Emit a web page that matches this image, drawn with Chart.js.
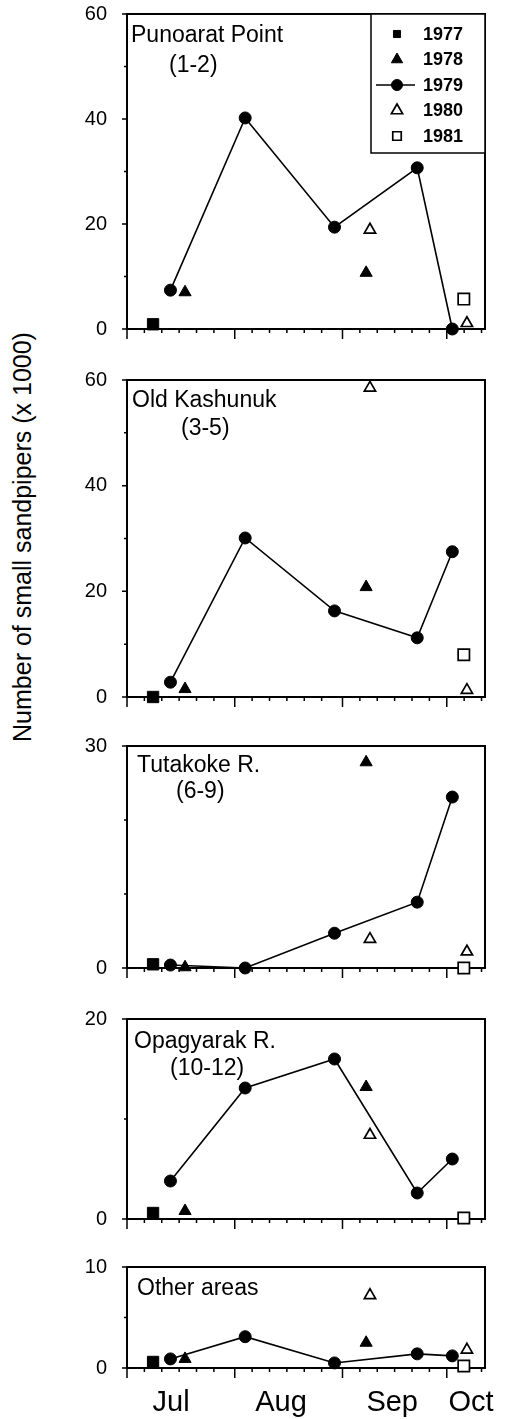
<!DOCTYPE html>
<html>
<head>
<meta charset="utf-8">
<script src="https://cdn.jsdelivr.net/npm/chart.js@4.4.0/dist/chart.umd.min.js"></script>
<style>
    html, body { margin: 0; padding: 0; background: #fff; }
    #page {
        position: relative; width: 507px; height: 1419px; overflow: hidden;
        font-family: "Liberation Sans", Arial, Helvetica, sans-serif; color: #000;
    }
    .panel { position: absolute; left: 0; }
    .panel canvas { display: block; }
    .site { position: absolute; font-size: 23px; line-height: 28px; white-space: nowrap; }
    #ytitle {
        position: absolute; left: -208px; top: 522px; width: 460px; height: 30px;
        line-height: 30px; font-size: 25px; text-align: center; white-space: nowrap;
        transform: rotate(-90deg);
    }
</style>
</head>
<body>
<div id="page">
    <div id="ytitle">Number of small sandpipers (x 1000)</div>
</div>
<script>
// ============================================================
// Small sandpiper counts by area, Jul–Oct surveys 1977–1981
// ============================================================

const AREAS = ["Punoarat Point", "Old Kashunuk", "Tutakoke R.", "Opagyarak R.", "Other areas"];
const AREA_SITES = ["(1-2)", "(3-5)", "(6-9)", "(10-12)", ""];
const YEARS = ["1977", "1978", "1979", "1980", "1981"];

// survey dates as days after 1 July
const DAYS_1977 = [7.5];
const DAYS_1978 = [16.7, 68.8];
const DAYS_1979 = [12.5, 34, 59.7, 83.5, 93.6];
const DAYS_1980 = [69.9, 97.8];
const DAYS_1981 = [96.9];

// counts (x 1000), one row per area in AREAS order
const COUNTS_1977 = [[0.9], [0], [0.5], [0.6], [0.6]];
const COUNTS_1978 = [[7.0, 10.7], [1.5, 20.8], [0.1, 27.8], [0.8, 13.2], [0.9, 2.5]];
const COUNTS_1979 = [
    [7.4, 40.2, 19.4, 30.7, 0],
    [2.8, 30.1, 16.3, 11.2, 27.5],
    [0.4, 0, 4.7, 8.9, 23.1],
    [3.8, 13.1, 16.0, 2.6, 6.0],
    [0.9, 3.1, 0.5, 1.4, 1.2]
];
const COUNTS_1980 = [[18.9, 1.1], [58.5, 1.3], [3.9, 2.2], [8.4, null], [7.2, 1.8]];
const COUNTS_1981 = [[5.7], [8.0], [0], [0.1], [0.2]];

// axes
const Y_MAX = [60, 60, 30, 20, 10];
const Y_LABEL_STEP = [20, 20, 30, 20, 10];
const Y_MINOR_STEP = [10, 10, 10, 10, 5];
const X_TICK_DAYS = [0, 5, 10, 15, 20, 25, 31, 36, 41, 46, 51, 56, 62, 67, 72, 77, 82, 87, 92, 97, 102];
const MONTH_START_DAYS = [0, 31, 62, 92];
const MONTH_LABELS = ["Jul", "Aug", "Sep", "Oct"];
const MONTH_LABEL_DAYS = [12.7, 44.3, 76.3, 99];

// ---- layout (pixels) ----
const FONT = "'Liberation Sans', Arial, Helvetica, sans-serif";
const PAGE_H = 1419;
const PAD_TOP = 14;
const AXIS_LEFT = 127;
const PANEL_TOP = [14, 380, 746, 1019, 1267];        // y of axis max
const PANEL_BOTTOM = [329, 697, 968, 1219, 1368];    // y of zero
const SITE_LABELS = [
    [{ x: 131, y: 20 }, { x: 169, y: 50 }],
    [{ x: 132, y: 385 }, { x: 181, y: 413 }],
    [{ x: 137, y: 750 }, { x: 176, y: 776 }],
    [{ x: 134, y: 1026 }, { x: 170, y: 1053 }],
    [{ x: 137, y: 1273 }]
];

const YEAR_STYLE = [
    { pointStyle: "rect", radius: 8, fill: "#000", border: 1, legendRadius: 5 },
    { pointStyle: "triangle", radius: 7, fill: "#000", border: 1, legendRadius: 6.5 },
    { pointStyle: "circle", radius: 6, fill: "#000", border: 1, legendRadius: 5.5, line: true },
    { pointStyle: "triangle", radius: 6.5, fill: "#fff", border: 1.7, legendRadius: 6.5 },
    { pointStyle: "rect", radius: 8, fill: "#fff", border: 1.7, legendRadius: 6 }
];

function points(days, values) {
    return days
        .map((d, i) => ({ x: d, y: values[i] }))
        .filter(p => p.y !== null);
}

function buildDatasets(i) {
    const series = [
        points(DAYS_1977, COUNTS_1977[i]),
        points(DAYS_1978, COUNTS_1978[i]),
        points(DAYS_1979, COUNTS_1979[i]),
        points(DAYS_1980, COUNTS_1980[i]),
        points(DAYS_1981, COUNTS_1981[i])
    ];
    return series.map((data, k) => {
        const st = YEAR_STYLE[k];
        return {
            label: YEARS[k],
            data,
            showLine: !!st.line,
            borderColor: "#000",
            borderWidth: 1.6,
            pointStyle: st.pointStyle,
            pointRadius: st.radius,
            pointBackgroundColor: st.fill,
            pointBorderColor: "#000",
            pointBorderWidth: st.border,
            legendRadius: st.legendRadius,
            clip: false
        };
    });
}

// box round the plot area plus the tick marks
const frameTicks = {
    id: "frameTicks",
    beforeDatasetsDraw(chart) {
        const { ctx, chartArea: a, scales } = chart;
        ctx.save();
        ctx.strokeStyle = "#000";
        ctx.lineWidth = 2;
        ctx.strokeRect(a.left, a.top, a.right - a.left, a.bottom - a.top);

        ctx.lineWidth = 1.5;
        ctx.beginPath();
        X_TICK_DAYS.forEach(d => {
            const px = scales.x.getPixelForValue(d);
            const len = MONTH_START_DAYS.includes(d) ? 10 : 4;
            ctx.moveTo(px, a.bottom);
            ctx.lineTo(px, a.bottom + len);
        });
        scales.y.ticks.forEach(t => {
            const py = scales.y.getPixelForValue(t.value);
            const len = t.label !== "" ? 5 : 3;
            ctx.moveTo(a.left - len, py);
            ctx.lineTo(a.left, py);
        });
        ctx.stroke();
        ctx.restore();
    }
};

// year key in the top right corner of the first panel
const legendBox = {
    id: "legendBox",
    afterDatasetsDraw(chart) {
        const { ctx, chartArea: a } = chart;
        const w = 114, h = 139;
        const left = a.right - w, top = a.top;
        ctx.save();
        ctx.fillStyle = "#fff";
        ctx.fillRect(left, top, w, h);
        ctx.strokeStyle = "#000";
        ctx.lineWidth = 1.5;
        ctx.strokeRect(left, top, w, h);

        chart.data.datasets.forEach((ds, k) => {
            const cy = top + 20 + k * 25.5;
            const mx = left + 26;
            if (ds.showLine) {
                ctx.lineWidth = 1.6;
                ctx.beginPath();
                ctx.moveTo(left + 5, cy);
                ctx.lineTo(left + 44, cy);
                ctx.stroke();
            }
            ctx.fillStyle = ds.pointBackgroundColor;
            ctx.strokeStyle = "#000";
            ctx.lineWidth = ds.pointBorderWidth;
            Chart.helpers.drawPoint(ctx, {
                pointStyle: ds.pointStyle,
                radius: ds.legendRadius,
                borderWidth: ds.pointBorderWidth,
                rotation: 0
            }, mx, cy);

            ctx.fillStyle = "#000";
            ctx.font = "bold 18px " + FONT;
            ctx.textAlign = "left";
            ctx.textBaseline = "middle";
            ctx.fillText(ds.label, left + 52, cy + 1);
        });
        ctx.restore();
    }
};

function makePanel(i) {
    const page = document.getElementById("page");
    const isLast = i === AREAS.length - 1;
    const axisH = isLast ? PAGE_H - PANEL_BOTTOM[i] : 16;
    const h = PANEL_BOTTOM[i] - PANEL_TOP[i] + PAD_TOP + axisH;

    const wrap = document.createElement("div");
    wrap.className = "panel";
    wrap.style.top = (PANEL_TOP[i] - PAD_TOP) + "px";
    const canvas = document.createElement("canvas");
    canvas.width = 507;
    canvas.height = h;
    wrap.appendChild(canvas);
    page.appendChild(wrap);

    [AREAS[i], AREA_SITES[i]].forEach((txt, k) => {
        if (!txt) return;
        const div = document.createElement("div");
        div.className = "site";
        div.textContent = txt;
        div.style.left = SITE_LABELS[i][k].x + "px";
        div.style.top = SITE_LABELS[i][k].y + "px";
        page.appendChild(div);
    });

    new Chart(canvas, {
        type: "line",
        data: { datasets: buildDatasets(i) },
        options: {
            responsive: false,
            animation: false,
            events: [],
            layout: {
                autoPadding: false,
                padding: { top: PAD_TOP, right: 22, left: 0, bottom: 0 }
            },
            plugins: {
                legend: { display: false },
                tooltip: { enabled: false }
            },
            scales: {
                x: {
                    type: "linear",
                    min: 0,
                    max: 103,
                    afterBuildTicks: s => { s.ticks = MONTH_LABEL_DAYS.map(v => ({ value: v })); },
                    afterFit: s => {
                        s.height = axisH;
                        s.paddingLeft = 0;
                        s.paddingRight = 0;
                    },
                    grid: { display: false, drawTicks: false },
                    border: { display: false },
                    ticks: {
                        display: isLast,
                        autoSkip: false,
                        maxRotation: 0,
                        padding: 18,
                        color: "#000",
                        font: { family: FONT, size: 29 },
                        callback: (v, idx) => MONTH_LABELS[idx]
                    }
                },
                y: {
                    min: 0,
                    max: Y_MAX[i],
                    afterFit: s => {
                        s.width = AXIS_LEFT;
                        s.paddingTop = 0;
                        s.paddingBottom = 0;
                    },
                    grid: { display: false, drawTicks: false },
                    border: { display: false },
                    ticks: {
                        stepSize: Y_MINOR_STEP[i],
                        padding: 20,
                        color: "#000",
                        font: { family: FONT, size: 20 },
                        callback: v => (v % Y_LABEL_STEP[i] === 0 ? v : "")
                    }
                }
            }
        },
        plugins: i === 0 ? [frameTicks, legendBox] : [frameTicks]
    });
}

AREAS.forEach((_, i) => makePanel(i));
</script>
</body>
</html>
